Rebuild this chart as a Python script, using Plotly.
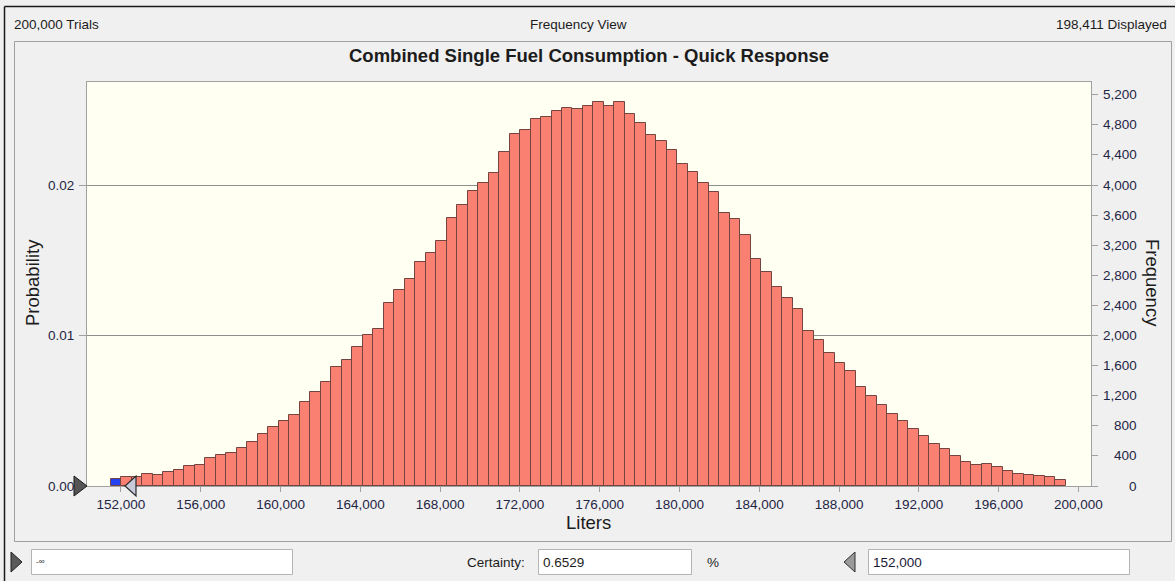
import plotly.graph_objects as go

# ---------------- data ----------------
trials = 200000
displayed = 198411
certainty_pct = "0.6529"
certainty_upper = 152000
bin_start = 151490
bin_width = 526
frequencies = [
    93, 116, 118, 162, 145, 181, 218, 266, 285, 371,
    418, 435, 504, 585, 688, 790, 859, 943, 1111, 1246,
    1383, 1583, 1672, 1845, 2004, 2093, 2434, 2603, 2753, 2975,
    3095, 3259, 3564, 3733, 3920, 4022, 4159, 4434, 4682, 4731,
    4881, 4904, 4984, 5019, 5006, 5054, 5097, 5054, 5103, 4940,
    4820, 4668, 4581, 4465, 4279, 4176, 4022, 3902, 3631, 3547,
    3330, 3011, 2838, 2647, 2500, 2346, 2062, 1942, 1774, 1636,
    1535, 1317, 1197, 1077, 958, 861, 754, 670, 555, 488,
    399, 315, 285, 298, 253, 200, 165, 146, 129, 116, 76,
]
x_ticks = list(range(152000, 200001, 4000))
prob_ticks = [0.0, 0.01, 0.02]
prob_labels = ["0.00", "0.01", "0.02"]
freq_ticks = list(range(0, 5201, 400))

# ---------------- geometry helpers ----------------
W_FIG, H_FIG = 1175, 581
L, R, T, B = 87, 1091, 82, 486
PW, PH = R - L, B - T


def px(x):
    return (x - L) / PW


def py(y):
    return (B - y) / PH


centers = [bin_start + bin_width * (i + 0.5) for i in range(len(frequencies))]
colors = ["#2442f0" if c < certainty_upper else "#fa8072" for c in centers]

FREQ_TOP = 5369
x_range = [150296, 200627]

FONT = "Liberation Sans, Arial, sans-serif"
TXT = "#1c1c1c"
TICK_TXT = "#1f2545"

fig = go.Figure()
fig.add_trace(go.Scatter(x=[], y=[], xaxis="x", yaxis="y", showlegend=False))
fig.add_trace(go.Bar(
    x=centers, y=frequencies, width=bin_width, yaxis="y2",
    marker=dict(color=colors, line=dict(color="#744540", width=1)),
    showlegend=False, hoverinfo="x+y",
))

fig.update_layout(
    width=W_FIG, height=H_FIG,
    margin=dict(l=L, r=W_FIG - R, t=T, b=H_FIG - B, pad=0),
    paper_bgcolor="#f0f0f0", plot_bgcolor="#fffff2",
    bargap=0, showlegend=False,
    font=dict(family=FONT, size=13.5, color=TXT),
    xaxis=dict(
        range=x_range, tickvals=x_ticks, tickformat=",d",
        ticks="outside", ticklen=5, tickcolor="#a0a0a0",
        showgrid=False, zeroline=False,
        showline=True, linecolor="#a0a0a0", linewidth=1, mirror=True,
        tickfont=dict(size=13.5, color=TICK_TXT), ticklabelstandoff=1,
    ),
    yaxis=dict(
        range=[0, FREQ_TOP / trials], tickvals=prob_ticks, ticktext=prob_labels,
        ticks="outside", ticklen=7, tickcolor="#a0a0a0",
        showgrid=True, gridcolor="#8f8f8f", gridwidth=1, zeroline=False,
        showline=True, linecolor="#a0a0a0", linewidth=1, mirror=True,
        tickfont=dict(size=13.5, color=TICK_TXT), ticklabelstandoff=2,
    ),
    yaxis2=dict(
        range=[0, FREQ_TOP], overlaying="y", side="right",
        tickvals=freq_ticks, ticks="outside", ticklen=6, tickcolor="#a0a0a0",
        showticklabels=False, showgrid=False, zeroline=False, showline=False,
    ),
)

shapes = []
# outer window border
shapes.append(dict(type="line", xref="paper", yref="paper",
                   x0=px(4.5), x1=px(4.5), y0=py(6.5), y1=py(581),
                   line=dict(color="#1a1a1a", width=1.5)))
shapes.append(dict(type="line", xref="paper", yref="paper",
                   x0=px(4.5), x1=px(1175), y0=py(6.5), y1=py(6.5),
                   line=dict(color="#1a1a1a", width=1.5)))
# inner chart frame
shapes.append(dict(type="rect", xref="paper", yref="paper",
                   x0=px(14.5), x1=px(1171.5), y0=py(41.5), y1=py(541.5),
                   line=dict(color="#a0a0a0", width=1), fillcolor="rgba(0,0,0,0)"))
# text boxes
for (bx0, bx1) in [(31, 292), (538, 691), (868, 1129)]:
    shapes.append(dict(type="rect", xref="paper", yref="paper",
                       x0=px(bx0 + 0.5), x1=px(bx1 + 0.5), y0=py(549.5), y1=py(574.5),
                       line=dict(color="#b4b4b4", width=1), fillcolor="#ffffff"))


def tri_path(pts):
    s = "M {},{} ".format(px(pts[0][0]), py(pts[0][1]))
    for (a, b) in pts[1:]:
        s += "L {},{} ".format(px(a), py(b))
    return s + "Z"


# bottom grabbers
shapes.append(dict(type="path", xref="paper", yref="paper",
                   path=tri_path([(11, 552), (22, 562), (11, 572)]),
                   fillcolor="#5a5a5a", line=dict(color="#202020", width=1)))
shapes.append(dict(type="path", xref="paper", yref="paper",
                   path=tri_path([(855, 552), (844, 562), (855, 572)]),
                   fillcolor="#9a9a9a", line=dict(color="#303030", width=1)))
# lower-bound grabber at the left edge of the axis (-inf)
shapes.append(dict(type="path", xref="paper", yref="paper",
                   path=tri_path([(74, 476), (87, 486), (74, 496)]),
                   fillcolor="#555555", line=dict(color="#1a1a1a", width=1)))
# upper-bound grabber at the certainty value
shapes.append(dict(type="path", xref="x", yref="paper",
                   xsizemode="pixel", ysizemode="pixel",
                   xanchor=certainty_upper, yanchor=0,
                   path="M 4,0 L 15,10 L 15,-10 Z",
                   fillcolor="#c9c9dc", line=dict(color="#2a2a2a", width=1.2)))
fig.update_layout(shapes=shapes)

ann = []


def text(x, y, s, anchor="center", size=13.5, color=TXT, bold=False, angle=0):
    ann.append(dict(xref="paper", yref="paper", x=px(x), y=py(y),
                    xanchor=anchor, yanchor="middle", showarrow=False,
                    text="<b>%s</b>" % s if bold else s, textangle=angle,
                    font=dict(family=FONT, size=size, color=color)))


text(12, 24, "{:,} Trials".format(trials), anchor="left")
text(578, 24, "Frequency View")
text(1169, 24, "{:,} Displayed".format(displayed), anchor="right")
text(589, 56, "Combined Single Fuel Consumption - Quick Response", size=18.5, bold=True)
text(32, 283, "Probability", size=18.5, angle=-90)
text(1153, 283, "Frequency", size=18.5, angle=90)
text(588, 522, "Liters", size=18.5)
text(34, 561, "-∞", anchor="left", size=8)
text(527, 562, "Certainty:", anchor="right")
text(541, 562, certainty_pct, anchor="left")
text(705, 562, "%", anchor="left")
text(871, 562, "{:,}".format(certainty_upper), anchor="left", color="#1a1a3a")

for v in freq_ticks:
    ann.append(dict(xref="paper", yref="y2", x=px(1139), y=v,
                    xanchor="right", yanchor="middle", showarrow=False,
                    text="{:,}".format(v),
                    font=dict(family=FONT, size=13.5, color=TICK_TXT)))

fig.update_layout(annotations=ann)
fig.write_html("out.html", config={"displayModeBar": False},
               post_script="document.body.style.margin='0px';")
